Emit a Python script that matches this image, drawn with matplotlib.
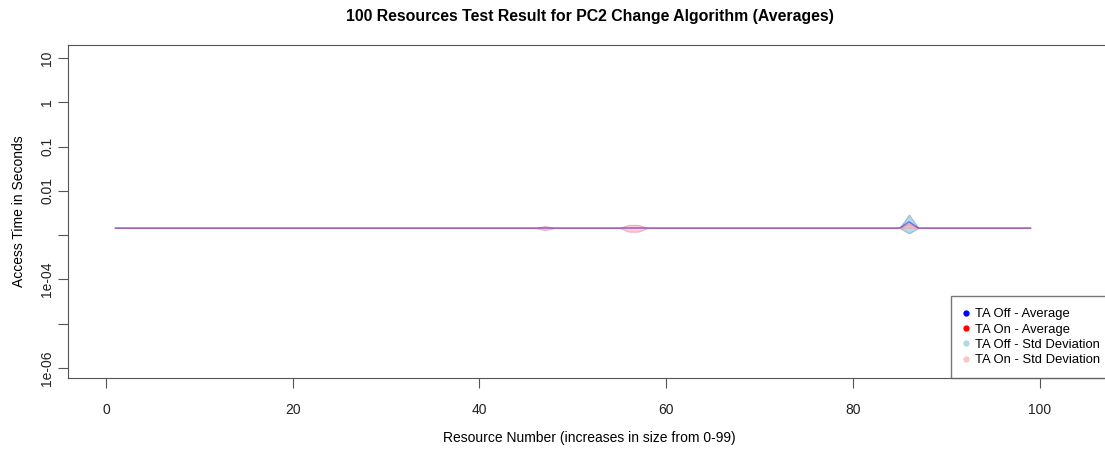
import numpy as np
import matplotlib
matplotlib.use("Agg")
import matplotlib.pyplot as plt

plt.rcParams['font.family'] = ['Liberation Sans', 'DejaVu Sans']

# resource numbers 1..99
resources = list(range(1, 100))

# averages are flat ~0.00145 s except at a few resources
off_avg = [0.00145] * 99
on_avg = [0.00145] * 99
off_sd = [0.0] * 99
on_sd = [0.0] * 99

off_avg[85] = 0.0020   # resource 86
on_avg[85] = 0.0017
off_sd[85] = 0.0009
on_sd[85] = 0.0002
on_sd[46] = 0.00015    # resource 47
on_sd[55] = 0.00025    # resource 56
on_sd[56] = 0.00025    # resource 57

x = np.array(resources)
off_avg = np.array(off_avg)
on_avg = np.array(on_avg)
off_sd = np.array(off_sd)
on_sd = np.array(on_sd)

fig = plt.figure(figsize=(11.05, 4.49), dpi=100)
ax = fig.add_axes([0.0615, 0.158, 0.9445, 0.742])

ax.fill_between(x, off_avg - off_sd, off_avg + off_sd, color='lightblue',
                alpha=0.9, lw=0.8, edgecolor='#8fb8cc')
ax.fill_between(x, on_avg - on_sd, on_avg + on_sd, color='pink',
                alpha=0.8, lw=0.8, edgecolor='#e8a0b0')
ax.plot(x, off_avg, color='blue', lw=1, alpha=0.45)
ax.plot(x, on_avg, color='red', lw=1, alpha=0.15)

ax.set_yscale('log')
ax.set_ylim(10 ** -6.226, 10 ** 1.2935)
ax.set_xlim(-4.07, 107.7)

yt = [1e-6, 1e-5, 1e-4, 1e-3, 1e-2, 1e-1, 1, 10]
ytl = ['1e-06', '', '1e-04', '', '0.01', '0.1', '1', '10']
ax.set_yticks(yt)
ax.set_yticklabels(ytl, rotation=90, va='center')
ax.minorticks_off()
ax.set_xticks([0, 20, 40, 60, 80, 100])

for s in ['top', 'left', 'bottom']:
    ax.spines[s].set_color('#555555')
ax.spines['right'].set_visible(False)
ax.tick_params(length=7, color='#555555', labelsize=10, labelcolor='#222222')
ax.tick_params(axis='x', pad=11)
ax.tick_params(axis='y', pad=3)

ax.set_xlabel('Resource Number (increases in size from 0-99)', fontsize=10, labelpad=10)
ax.set_ylabel('Access Time in Seconds', fontsize=10, labelpad=10)
ax.set_title('100 Resources Test Result for PC2 Change Algorithm (Averages)',
             fontsize=11.4, fontweight='bold', pad=17)

# legend with dot markers
for c, lab in [('blue', 'TA Off - Average'), ('red', 'TA On - Average'),
               ('lightblue', 'TA Off - Std Deviation'), ('pink', 'TA On - Std Deviation')]:
    ax.plot([], [], 'o', color=c, ms=3.5, label=lab)
leg = ax.legend(loc='lower right', fontsize=9.4, frameon=True, fancybox=False,
                borderaxespad=0, handletextpad=0.4, handlelength=0.5,
                labelspacing=0.25, borderpad=0.9)
leg.get_frame().set_edgecolor('#555555')
leg.get_frame().set_linewidth(1)

fig.savefig('out.png', dpi=100)
